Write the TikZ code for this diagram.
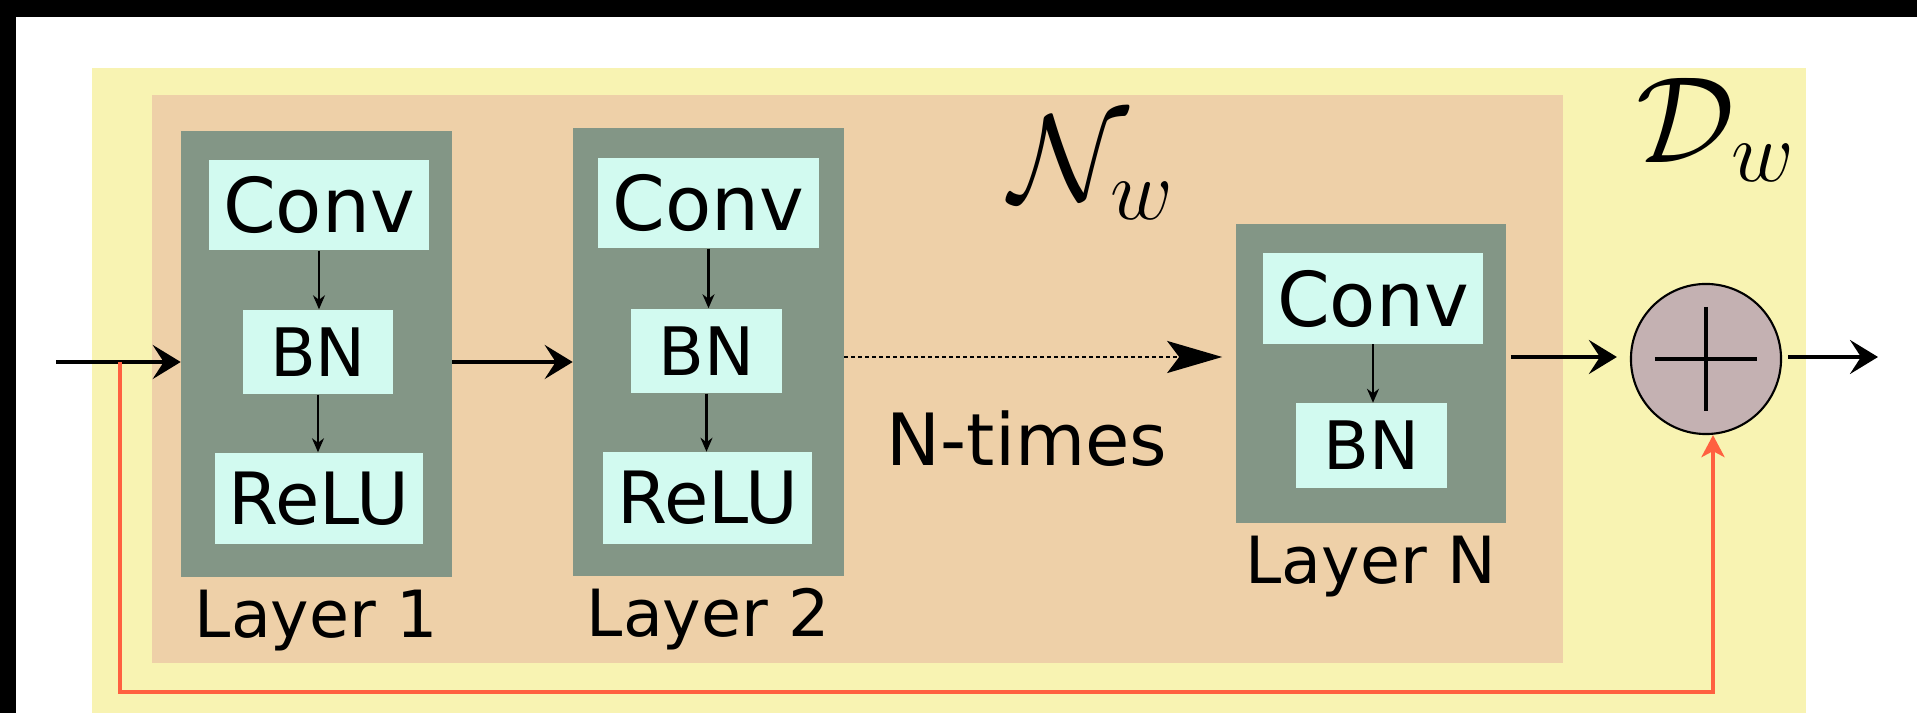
\documentclass[tikz,border=0pt]{standalone}
\usepackage{fix-cm}
\usepackage{fontspec}
\setmainfont{DejaVu Sans}
\usepackage{xcolor}
\usepackage{tikz}
\usetikzlibrary{calc,positioning,arrows.meta}

\definecolor{outerbg}{HTML}{F8F3B2}
\definecolor{innerbg}{HTML}{EED0A8}
\definecolor{layergray}{HTML}{839686}
\definecolor{opcyan}{HTML}{D2FAF0}
\definecolor{sumfill}{HTML}{C4B1B2}
\definecolor{skipred}{HTML}{FF6040}

\begin{document}
\begin{tikzpicture}[
	%	style def
    x=0.01cm, y=-0.01cm,
    layer box/.style={fill=layergray, minimum width=2.7cm, minimum height=#1, inner sep=0pt},
    op box/.style={fill=opcyan, inner sep=0pt},
    conv op/.style={op box, minimum width=2.2cm, minimum height=0.9cm, font=\fontsize{21.5}{24}\selectfont},
    bn op/.style={op box, minimum width=1.5cm, minimum height=0.84cm, font=\fontsize{19}{22}\selectfont},
    relu op/.style={op box, minimum width=2.08cm, minimum height=0.91cm, font=\fontsize{20.5}{24}\selectfont},
    layer label/.style={font=\fontsize{18.5}{22}\selectfont, anchor=base},
    math label/.style={font=\fontsize{35}{40}\selectfont},
    main line/.style={line width=1.1pt, -{Stealth[length=2.8mm,width=3.4mm,inset=1.1mm]}},
    inner line/.style={line width=0.6pt, -{Stealth[length=1.4mm,width=1.2mm]}},
    dots line/.style={line width=0.75pt, dash pattern=on 0.4mm off 0.3mm, -{Stealth[length=5.5mm,width=3.2mm,inset=1.2mm]}},
    skip line/.style={line width=1.3pt, skipred, -{Stealth[length=2.2mm,width=2.3mm,inset=0.6mm]}}
    ]

    % frame and background panels
    \useasboundingbox (0,0) rectangle (1917,713);
    \fill[black] (0,0) rectangle (1917,713);
    \fill[white] (16,17) rectangle (1917,713);
    \fill[outerbg] (92,68) rectangle (1806,713);
    \fill[innerbg] (152,95) rectangle (1563,663);

    % layers
    \node[layer box=4.46cm] (layer1) at (316.5,354) {};
    \node[conv op] (conv1) at (319,205) {Conv};
    \node[bn op] (bn1) at (318,352) {BN};
    \node[relu op] (relu1) at (319,498.5) {ReLU};
    \node[layer label] (lbl1) at ([yshift=-6mm]layer1.south) {Layer 1};

    \node[layer box=4.48cm] (layer2) at (708.5,352) {};
    \node[conv op] (conv2) at (708.5,203) {Conv};
    \node[bn op] (bn2) at (706.5,351) {BN};
    \node[relu op] (relu2) at (707.5,498) {ReLU};
    \node[layer label] (lbl2) at ([yshift=-6mm]layer2.south) {Layer 2};

    \node[layer box=2.99cm] (layerN) at (1371,373.5) {};
    \node[conv op] (convN) at (1373,298.5) {Conv};
    \node[bn op] (bnN) at (1371.5,445.5) {BN};
    \node[layer label] (lblN) at ([yshift=-6mm]layerN.south) {Layer N};

    % inner connections
    \draw[inner line] (conv1.south) -- (conv1.south |- bn1.north);
    \draw[inner line] (bn1.south) -- (bn1.south |- relu1.north);
    \draw[inner line] (conv2.south) -- (conv2.south |- bn2.north);
    \draw[inner line] (bn2.south) -- (bn2.south |- relu2.north);
    \draw[inner line] (convN.south) -- (convN.south |- bnN.north);

    % labels
    \node[math label] (netlbl) at (1092,168) {$\mathcal{N}_w$};
    \node[math label] (dlbl) at (1716,130) {$\mathcal{D}_w$};
    \node[font=\fontsize{20.5}{24}\selectfont] (ntimes) at (1027,439) {N-times};

    % sum
    \node[circle, draw, line width=0.6pt, fill=sumfill, minimum size=1.5cm, inner sep=0pt] (sum) at (1706,359) {};
    \draw[line width=1.4pt] ([xshift=-5.1mm]sum.center) -- ([xshift=5.1mm]sum.center);
    \draw[line width=1.4pt] ([yshift=5.2mm]sum.center) -- ([yshift=-5.2mm]sum.center);

    % main flow
    \coordinate (in) at (56,362);
    \coordinate (split) at (120,362);
    \coordinate (rowa) at (0,362);
    \coordinate (rowb) at (0,357);
    \coordinate (skipbot) at (0,692);
    \coordinate (out) at (1878,357);
    \draw[main line] (in) -- (in -| layer1.west);
    \draw[main line] (layer1.east |- rowa) -- (layer2.west |- rowa);
    \draw[dots line, shorten >=1.3mm] (layer2.east |- rowb) -- (layerN.west |- rowb);
    \draw[main line, shorten <=0.4mm, shorten >=1.3mm] (layerN.east |- rowb) -- (sum.west |- rowb);
    \draw[main line, shorten <=0.6mm] (sum.east |- rowb) -- (out);

    % skip connection
    \draw[skip line] (split) -- (split |- skipbot) -| ([xshift=0.7mm]sum.south);
\end{tikzpicture}
\end{document}
